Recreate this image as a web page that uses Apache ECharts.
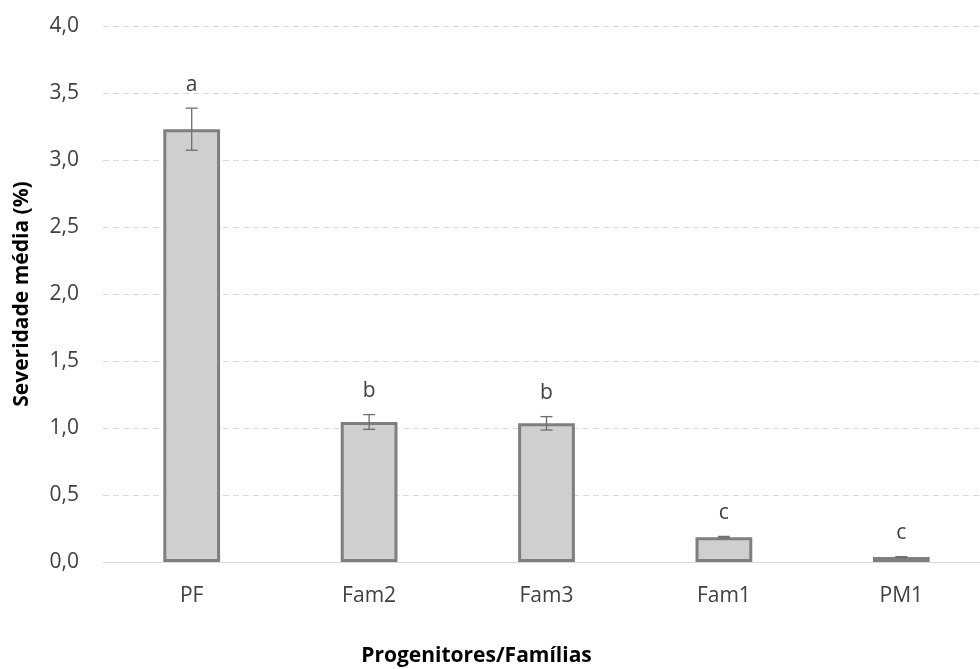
<!DOCTYPE html>
<html><head><meta charset="utf-8">
<script src="https://cdn.jsdelivr.net/npm/echarts@6/dist/echarts.min.js"></script>
<style>html,body{margin:0;padding:0;background:#fff}#c{width:980px;height:669px}</style>
</head><body><div id="c"></div>
<script>
const categories = ['PF', 'Fam2', 'Fam3', 'Fam1', 'PM1'];
const values = [3.23, 1.045, 1.035, 0.185, 0.037];
const errors = [0.157, 0.055, 0.05, 0.006, 0.003];
const letters = ['a', 'b', 'b', 'c', 'c'];
const yTicks = [0, 0.5, 1, 1.5, 2, 2.5, 3, 3.5, 4];

const chart = echarts.init(document.getElementById('c'));
const fmt = v => v.toFixed(1).replace('.', ',');
chart.setOption({
  animation: false,
  grid: { left: 103, right: -10, top: 26, bottom: 107, outerBoundsMode: 'none', containLabel: false },
  xAxis: {
    type: 'category', data: categories,
    axisLine: { lineStyle: { color: '#d9d9d9', width: 1 } },
    axisTick: { show: false },
    axisLabel: { color: '#404040', fontSize: 21, fontFamily: 'Open Sans', margin: 24 },
    name: 'Progenitores/Famílias', nameLocation: 'middle', nameGap: 84,
    nameTextStyle: { color: '#000', fontWeight: 'bold', fontSize: 21, fontFamily: 'Open Sans', padding: [0, 0, 0, -140] }
  },
  yAxis: {
    type: 'value', min: yTicks[0], max: yTicks[yTicks.length - 1], interval: 0.5,
    axisLine: { show: false }, axisTick: { show: false },
    splitLine: { lineStyle: { color: '#d9d9d9', type: [6, 4], width: 1 } },
    axisLabel: { color: '#404040', fontSize: 21, fontFamily: 'Open Sans', margin: 24, formatter: fmt },
    name: 'Severidade média (%)', nameLocation: 'middle', nameGap: 70,
    nameTextStyle: { color: '#000', fontWeight: 'bold', fontSize: 21, fontFamily: 'Open Sans' }
  },
  series: [
    {
      type: 'bar', data: values, barWidth: '32%',
      itemStyle: { color: '#d0cece', borderColor: '#7f7f7f', borderWidth: 3 }
    },
    {
      type: 'custom',
      data: values.map((v, i) => [i, v - errors[i], v + errors[i]]),
      renderItem: function (params, api) {
        const x = api.coord([api.value(0), 0])[0];
        const lo = api.coord([api.value(0), api.value(1)])[1];
        const hi = api.coord([api.value(0), api.value(2)])[1];
        const hw = 6;
        const st = { stroke: '#6e6e6e', lineWidth: 1.3 };
        return {
          type: 'group', children: [
            { type: 'line', shape: { x1: x, y1: lo, x2: x, y2: hi }, style: st },
            { type: 'line', shape: { x1: x - hw, y1: lo, x2: x + hw, y2: lo }, style: st },
            { type: 'line', shape: { x1: x - hw, y1: hi, x2: x + hw, y2: hi }, style: st },
            { type: 'text', x: x, y: hi - 13, style: { text: letters[params.dataIndex], fill: '#404040', font: '21px "Open Sans"', align: 'center', verticalAlign: 'bottom' } }
          ]
        };
      },
      z: 5
    }
  ]
});
</script></body></html>
